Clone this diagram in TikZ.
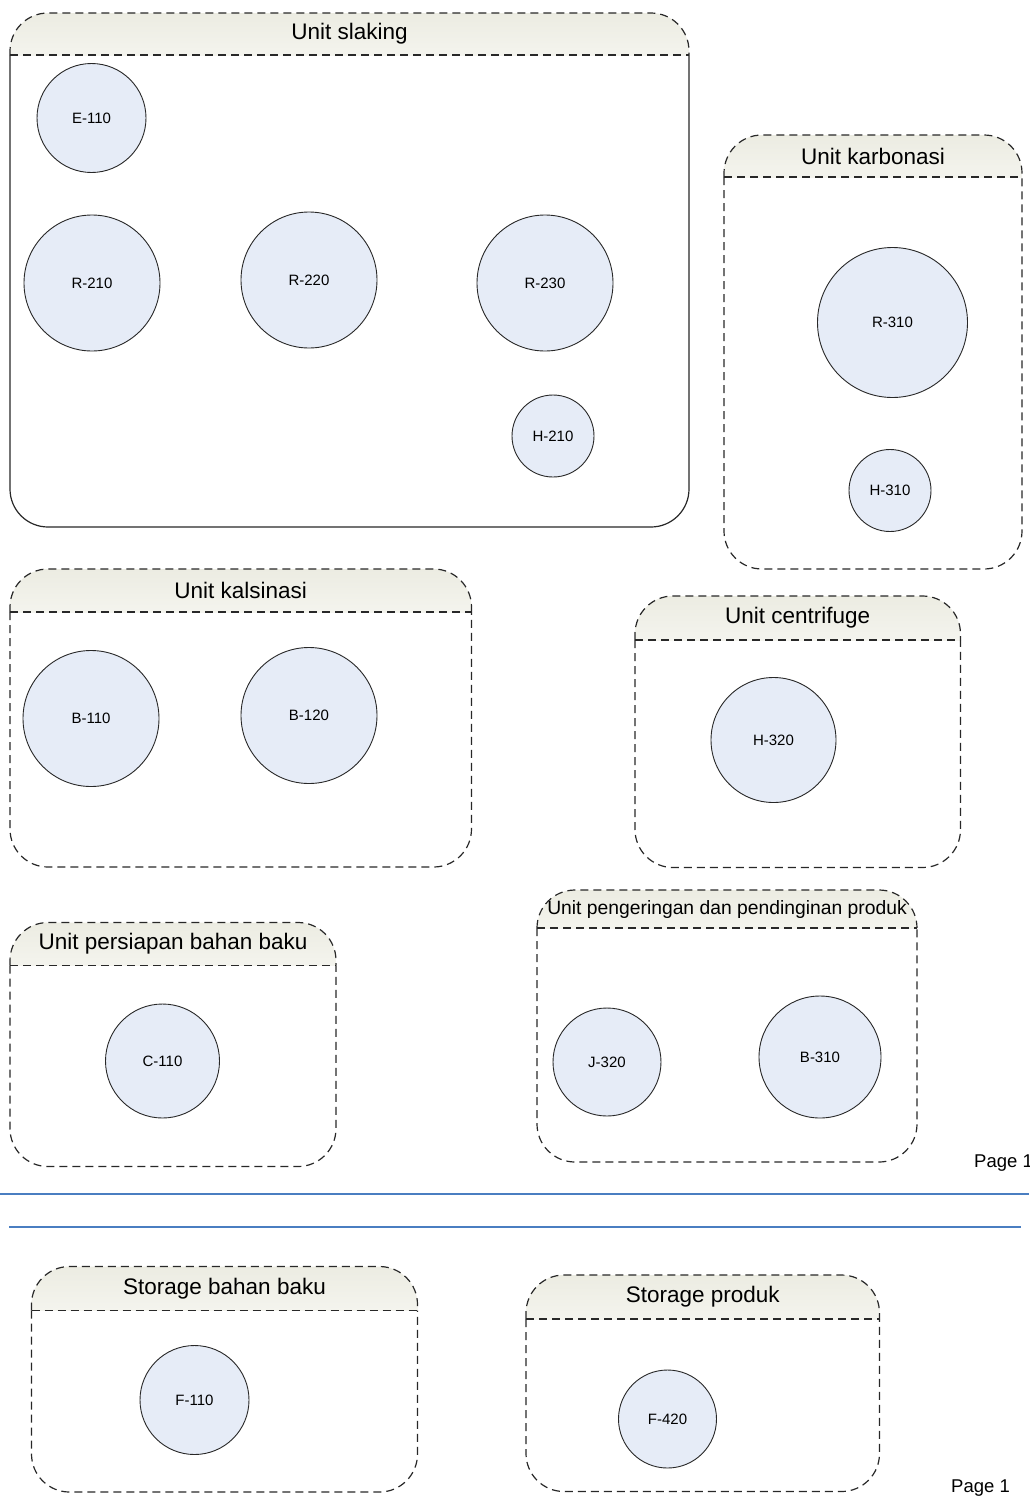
\documentclass[tikz,border=0pt]{standalone}
\usepackage{fontspec}
\setmainfont{Liberation Sans}
\usetikzlibrary{shapes.geometric}
\definecolor{hdtop}{RGB}{236,236,226}
\definecolor{hdbot}{RGB}{251,251,248}
\definecolor{vesselfill}{RGB}{230,236,247}
\definecolor{edgegray}{RGB}{40,40,40}
\definecolor{sepblue}{RGB}{74,126,193}
\tikzset{
  boxline/.style={draw=edgegray,line width=1.2pt},
  boxdash/.style={dash pattern=on 8pt off 5pt},
  boxsolid/.style={solid},
  vessel/.style={circle,draw=edgegray,line width=0.9pt,fill=vesselfill,inner sep=0pt,font=\fontsize{15}{15}\selectfont},
  pagelabel/.style={anchor=west,inner sep=0pt,font=\fontsize{18.5}{18.5}\selectfont},
  sepline/.style={draw=sepblue,line width=2pt}
}
% #1 x1, #2 y1, #3 x2, #4 header bottom, #5 y2, #6 body style, #7 title, #8 name, #9 font size
\newcommand\procunit[9]{%
  \begin{scope}
    \clip (#1,#2) rectangle (#3,#4);
    \shade[top color=hdtop,bottom color=hdbot,rounded corners=38pt] (#1,#2) rectangle (#3,#4+38);
  \end{scope}
  \draw[boxline,boxdash,rounded corners=38pt] (#1,#4) -- (#1,#2) -- (#3,#2) -- (#3,#4);
  \draw[boxline,boxdash] (#1,#4) -- (#3,#4);
  \draw[boxline,#6,rounded corners=38pt] (#1,#4) -- (#1,#5) -- (#3,#5) -- (#3,#4);
  \node[inner sep=0pt,font=\fontsize{#9}{#9}\selectfont] (#8) at ({(#1+#3)/2},{(#2+#4)/2}) {#7};
}
\begin{document}
\begin{tikzpicture}[x=1pt,y=-1pt]
\useasboundingbox (0,0) rectangle (1029,1502);
\fill[white] (0,0) rectangle (1029,1502);

\procunit{10}{13}{689}{55}{527}{boxsolid}{Unit slaking}{tslaking}{22.5}
\procunit{724}{135}{1022}{177}{569}{boxdash}{Unit karbonasi}{tkarbonasi}{22.5}
\procunit{10}{569}{471.5}{612}{867}{boxdash}{Unit kalsinasi}{tkalsinasi}{22.5}
\procunit{635}{596}{960.5}{640}{867.5}{boxdash}{Unit centrifuge}{tcentrifuge}{22.5}
\procunit{10}{922.5}{336}{965.5}{1166.5}{boxdash}{Unit persiapan bahan baku}{tpersiapan}{22.5}
\procunit{537}{890}{917}{928}{1162}{boxdash}{Unit pengeringan dan pendinginan produk}{tpengeringan}{19.3}
\procunit{31.5}{1266.5}{417.5}{1310.5}{1492}{boxdash}{Storage bahan baku}{tstoragebb}{22.5}
\procunit{526}{1275}{879.5}{1319}{1491.5}{boxdash}{Storage produk}{tstorageprod}{22.5}

% vessels
\node[vessel,minimum size=109pt] (e110) at (91.5,118) {E-110};
\node[vessel,minimum size=136pt] (r210) at (92,283) {R-210};
\node[vessel,minimum size=136pt] (r220) at (309,280) {R-220};
\node[vessel,minimum size=136pt] (r230) at (545,283) {R-230};
\node[vessel,minimum size=82pt] (h210) at (553,436) {H-210};
\node[vessel,minimum size=150pt] (r310) at (892.5,322.5) {R-310};
\node[vessel,minimum size=82pt] (h310) at (890,490.5) {H-310};
\node[vessel,minimum size=136pt] (b110) at (91,718.5) {B-110};
\node[vessel,minimum size=136pt] (b120) at (309,715.5) {B-120};
\node[vessel,minimum size=125pt] (h320) at (773.5,740) {H-320};
\node[vessel,minimum size=114pt] (c110) at (162.5,1061) {C-110};
\node[vessel,minimum size=108pt] (j320) at (607,1062) {J-320};
\node[vessel,minimum size=122pt] (b310) at (820,1057) {B-310};
\node[vessel,minimum size=109pt] (f110) at (194.5,1400) {F-110};
\node[vessel,minimum size=98pt] (f420) at (667.5,1419) {F-420};

% page labels
\node[pagelabel] (page1a) at (974,1163) {Page 1};
\node[pagelabel] (page1b) at (951,1488) {Page 1};

% page separator lines
\coordinate (sepAl) at (0,1193.5);
\coordinate (sepAr) at (1029,1193.5);
\coordinate (sepBl) at (9,1226.5);
\coordinate (sepBr) at (1021,1226.5);
\draw[sepline] (sepAl) -- (sepAr);
\draw[sepline] (sepBl) -- (sepBr);
\end{tikzpicture}
\end{document}
